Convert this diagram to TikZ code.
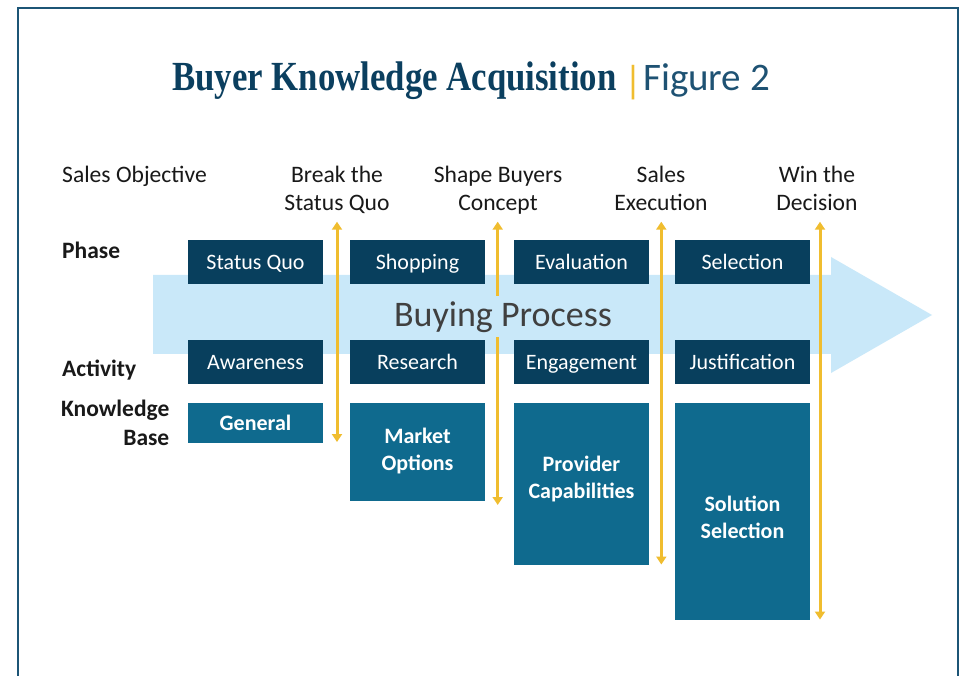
\documentclass[tikz,border=0pt]{standalone}
\usepackage{fontspec}
\setmainfont{Carlito}
\newfontfamily\titlefont[FakeStretch=0.84]{Liberation Serif}
\usetikzlibrary{arrows.meta}

\definecolor{navy}{HTML}{083F5D}
\definecolor{kbblue}{HTML}{0F6A8E}
\definecolor{arrowblue}{HTML}{C9E8F9}
\definecolor{gold}{HTML}{F0BD2F}
\definecolor{framecol}{HTML}{1C5576}
\definecolor{titlecol}{HTML}{0B3F5F}
\definecolor{figcol}{HTML}{1E5273}
\definecolor{inkgray}{HTML}{404040}

\tikzset{
  box/.style={fill=navy, text=white, minimum width=135pt, minimum height=44pt, inner sep=0pt,
    text height=16.5pt, text depth=1.9pt, font=\fontsize{22}{27}\selectfont},
  kbox/.style={fill=kbblue, minimum width=135pt, inner sep=0pt},
  ktext/.style={text=white, inner sep=0pt, align=center, font=\fontsize{22}{26.7}\selectfont\bfseries},
  lbl/.style={inner sep=0pt, text=black!90, font=\fontsize{23.6}{28.5}\selectfont},
  toplbl/.style={lbl, align=center, anchor=north},
  sidelbl/.style={lbl, font=\fontsize{23.5}{28.3}\selectfont\bfseries},
  objarrow/.style={gold, line width=3pt, {Triangle[width=10pt,length=8pt]}-{Triangle[width=10pt,length=8pt]}}
}

\begin{document}
\begin{tikzpicture}[x=1pt,y=-1pt]
            \useasboundingbox (0,0) rectangle (964,676);
            \fill[white] (0,0) rectangle (964,676);
            \draw[framecol, line width=2pt] (18,680) -- (18,8) -- (958,8) -- (958,680);

            % title
            \node[anchor=base west, inner sep=0pt, text=titlecol, font=\titlefont\fontsize{41.4}{44}\selectfont\bfseries] (title) at (172,90.7) {Buyer Knowledge Acquisition};
            \node[anchor=base west, inner sep=0pt, text=gold, font=\fontsize{39}{40}\selectfont] (bar) at (624,93.5) {|};
            \node[anchor=base west, inner sep=0pt, text=figcol, font=\fontsize{39}{42}\selectfont] (fig) at (643,90.7) {Figure 2};

            % buying process arrow
            \fill[arrowblue] (153,275) -- (831,275) -- (831,257) -- (932,315) -- (831,373) -- (831,354) -- (153,354) -- cycle;

            % top labels (first baseline at 182.3)
            \node[lbl, anchor=base west] (obj) at (62,182.3) {Sales Objective};
            \node[toplbl] (brk) at (337,162.3) {\strut Break the\\\strut Status Quo};
            \node[toplbl] (shp) at (498,162.3) {\strut Shape Buyers\\\strut Concept};
            \node[toplbl] (exe) at (661,162.3) {\strut Sales\\\strut Execution};
            \node[toplbl] (win) at (817,162.3) {\strut Win the\\\strut Decision};

            % side labels
            \node[sidelbl, anchor=base west] (phs) at (62,259) {Phase};
            \node[sidelbl, anchor=base west] (act) at (62,377) {Activity};
            \node[sidelbl, anchor=north east, align=right] (kb) at (169.5,396.9) {\strut Knowledge\\\strut Base};

            % phase row
            \node[box] (SQ) at (255.5,262) {Status Quo};
            \node[box] (Shop) at (417.5,262) {Shopping};
            \node[box] (Eval) at (581.5,262) {Evaluation};
            \node[box] (Sel) at (742.5,262) {Selection};

            % activity row
            \node[box] (Aw) at (255.5,362) {Awareness};
            \node[box] (Res) at (417.5,362) {Research};
            \node[box] (Eng) at (581.5,362) {Engagement};
            \node[box] (Just) at (742.5,362) {Justification};

            % knowledge base row
            \node[kbox, minimum height=40pt] (Gen) at (255.5,423) {};
            \node[kbox, minimum height=98pt] (Mkt) at (417.5,452) {};
            \node[kbox, minimum height=162pt] (Prov) at (581.5,484) {};
            \node[kbox, minimum height=217pt] (Sol) at (742.5,511.5) {};
            \node[ktext] (GenT) at (Gen) {General};
            \node[ktext] (MktT) at (417.5,451) {Market\\Options};
            \node[ktext] (ProvT) at (581.5,479) {Provider\\Capabilities};
            \node[ktext] (SolT) at (742.5,517) {Solution\\Selection};

            % objective arrows
            \coordinate (brkT) at (337,221.7); \coordinate (brkB) at (337,442);
            \coordinate (shpT) at (497.7,221.7); \coordinate (shpB) at (497.7,505);
            \coordinate (exeT) at (661.3,221.7); \coordinate (exeB) at (661.3,564.5);
            \coordinate (winT) at (820,221.7); \coordinate (winB) at (820,619.5);
            \draw[objarrow] (brkT) to (brkB); \draw[objarrow] (shpT) to (shpB);
            \draw[objarrow] (exeT) to (exeB); \draw[objarrow] (winT) to (winB);

            \node[fill=arrowblue, inner xsep=4pt, inner ysep=0pt, minimum height=41pt, text=inkgray, font=\fontsize{36}{40}\selectfont] (bp) at (503,317) {Buying Process};
        \end{tikzpicture}
\end{document}
